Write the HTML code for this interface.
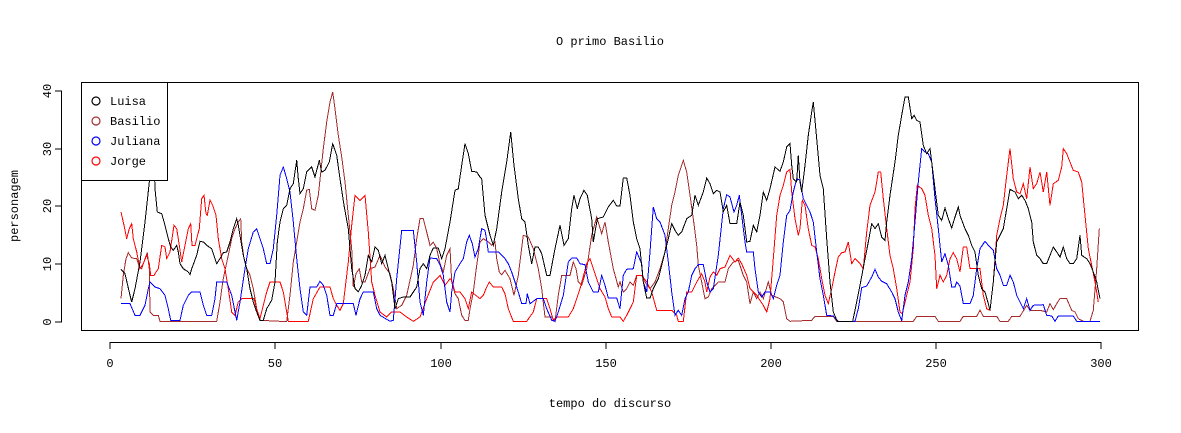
<!DOCTYPE html>
<html><head><meta charset="utf-8"><style>
body{margin:0;background:#fff}
svg{display:block}
text{font-family:"Liberation Mono","DejaVu Sans Mono",monospace;font-size:12px;fill:#000}
</style></head><body>
<svg id="s" width="1181" height="433" viewBox="0 0 1181 433" xmlns="http://www.w3.org/2000/svg">
<rect x="0" y="0" width="1181" height="433" fill="#fff"/>
<text x="610" y="45" text-anchor="middle">O primo Basilio</text>
<text x="610" y="407" text-anchor="middle">tempo do discurso</text>
<text transform="translate(18,206) rotate(-90)" text-anchor="middle">personagem</text>
<g stroke="#000" stroke-width="1" fill="none">
<line x1="110" y1="342.5" x2="1101" y2="342.5"/>
<line x1="110" y1="342" x2="110" y2="349"/><line x1="275" y1="342" x2="275" y2="349"/>
<line x1="441" y1="342" x2="441" y2="349"/><line x1="606" y1="342" x2="606" y2="349"/>
<line x1="771" y1="342" x2="771" y2="349"/><line x1="936" y1="342" x2="936" y2="349"/>
<line x1="1101" y1="342" x2="1101" y2="349"/>
<line x1="61.5" y1="91" x2="61.5" y2="322"/>
<line x1="55" y1="322" x2="62" y2="322"/><line x1="55" y1="264" x2="62" y2="264"/>
<line x1="55" y1="206" x2="62" y2="206"/><line x1="55" y1="149" x2="62" y2="149"/>
<line x1="55" y1="91" x2="62" y2="91"/>
<rect x="81.5" y="82.5" width="1057" height="248"/>
</g>
<g text-anchor="middle">
<text x="110" y="367">0</text><text x="275" y="367">50</text><text x="441" y="367">100</text>
<text x="606" y="367">150</text><text x="771" y="367">200</text><text x="936" y="367">250</text>
<text x="1101" y="367">300</text>
<text transform="translate(51,322) rotate(-90)">0</text>
<text transform="translate(51,264) rotate(-90)">10</text>
<text transform="translate(51,206) rotate(-90)">20</text>
<text transform="translate(51,149) rotate(-90)">30</text>
<text transform="translate(51,91) rotate(-90)">40</text>
</g>
<g id="lines" fill="none" stroke-width="1" shape-rendering="crispEdges"></g>
<rect x="81.5" y="82.5" width="86" height="98" fill="#fff" stroke="#000"/>
<g fill="none" stroke-width="1.2">
<circle cx="96" cy="101" r="4" stroke="#000"/>
<circle cx="96" cy="121" r="4" stroke="#A52A2A"/>
<circle cx="96" cy="141" r="4" stroke="#00f"/>
<circle cx="96" cy="161" r="4" stroke="#f00"/>
</g>
<text x="110" y="105">Luisa</text>
<text x="110" y="125">Basilio</text>
<text x="110" y="145">Juliana</text>
<text x="110" y="165">Jorge</text>
</svg>
<script>
var Z={
black:[
[100,[63,562,75,575,90,640,95,660,105,620,120,540,135,420,148,300,156,250,163,260,165,320,172,390,185,395,195,430,205,470,212,495,220,505,230,490,235,510,240,545,250,560,265,570,270,578,275,560,290,520,300,478,310,480,320,490,335,500,350,545,360,530,370,512,380,510,390,480,400,440,410,410,415,430,420,460,430,520,440,560,450,620,460,660,470,690,480,715,490,715,500,680,515,655,525,600,532,480,540,420]],
[270,[0,660,10,640,20,560,30,440,40,380,50,370,60,320,70,305,80,235,85,290,90,335,100,320,110,270,125,255,135,285,148,235,155,270,165,265,178,240,188,185,200,220,210,290,222,370,235,440,240,500,245,560,255,620,265,630,275,610,285,580,295,520,305,540,315,495,325,505,335,545,345,520,355,560,365,600,375,680,385,650,400,645,420,645,440,615,450,560,460,545,470,560,480,520,490,498,505,498,515,530,525,500,540,420]],
[440,[0,510,10,520,20,490,30,400,45,325,55,320,65,250,75,185,85,215,95,268,110,270,120,285,125,290,135,400,150,460,160,490,170,440,185,330,200,240,212,150,222,250,235,350,245,410,255,420,265,490,275,545,285,495,295,495,305,515,320,580,330,580,345,500,360,430,372,490,385,470,395,380,402,340,412,380,420,350,432,325,442,340,455,410,460,480,472,410,490,405,505,375,520,355,530,372,540,372]],
[610,[0,390,10,355,20,372,30,372,40,288,50,288,60,340,70,420,80,470,90,500,100,600,110,648,120,648,130,620,145,590,160,530,175,470,185,425,195,445,205,460,215,450,230,410,245,400,255,340,265,370,280,330,290,288,300,305,310,335,320,325,330,330,340,390,350,370,360,425,380,425,390,360,400,400,410,480,420,478,430,430,440,450,450,400,460,330,470,355,480,320,495,255,510,268,520,240,530,195,540,185]],
[780,[0,265,10,235,20,200,28,185,35,250,40,290,50,300,55,220,60,300,65,330,75,250,85,160,95,90,100,60,110,170,120,280,130,320,140,470,150,600,160,690,172,718,218,718,230,660,240,610,255,530,265,480,275,425,285,440,295,425,305,465,315,475,320,420,330,340,345,240,355,160,365,100,375,45,385,45,395,110,402,100,410,115,420,120,430,190,440,215,450,200,455,240,465,320,475,400,485,415,495,378,505,410,515,438,525,405,535,375,540,400]],
[950,[0,430,10,430,20,375,30,400,45,440,55,460,65,490,75,510,85,580,95,620,105,630,115,665,120,685,130,600,140,480,150,460,160,440,170,380,180,322,195,330,205,350,215,340,225,355,235,380,245,420,250,480,260,520,270,530,280,545,290,545,300,520,310,495,320,510,330,525,340,495,350,530,360,545,370,545,380,530,390,460,395,520,410,530,420,545,430,570,440,600,450,650]]],
brown:[
[100,[63,650,70,580,78,530,85,512,95,528,110,530,118,555,125,560,135,530,142,512,148,560,145,650,150,690,160,700,175,700,180,718,350,718,360,660,368,600,375,565,385,520,395,470,405,440,415,420,422,410,425,480,432,530,440,560,450,580,460,620,470,680,480,715,540,718]],
[270,[0,718,50,718,60,640,70,540,80,480,90,420,100,380,110,325,118,322,125,380,135,385,145,340,160,200,170,120,180,60,188,30,195,80,205,160,215,225,225,300,235,400,245,500,250,615,258,575,268,560,275,600,285,600,300,560,315,555,330,520,345,555,360,575,370,620,380,680,395,670,410,640,430,550,440,470,450,410,460,410,470,450,480,490,490,480,500,500,510,545,520,570,530,520,540,500]],
[440,[0,520,10,512,25,530,35,600,45,635,55,650,65,700,75,715,85,715,90,680,100,630,110,550,120,480,130,470,145,480,155,490,165,480,170,530,178,570,185,578,195,565,210,590,222,640,235,580,250,460,265,465,280,500,295,560,305,620,315,705,335,705,345,718,355,640,365,580,390,580,400,540,408,560,415,600,425,610,440,560,455,460,470,405,485,455,495,420,505,480,520,560,535,615,540,600]],
[610,[0,520,10,570,20,610,30,600,40,630,50,620,60,600,70,610,80,580,95,580,105,600,120,620,135,600,150,560,165,510,175,440,185,370,195,330,205,280,220,235,230,270,240,340,250,410,260,490,265,550,275,600,285,650,295,645,305,620,325,600,345,600,355,560,370,540,385,535,400,580,410,600,420,665,430,630,440,650,450,630,460,650,475,600,485,640,510,650,520,660,530,710,540,718]],
[780,[0,650,10,660,15,695,25,715,95,715,105,703,160,703,170,718,400,718,410,703,465,703,475,718,540,718]],
[950,[0,718,30,718,40,703,80,703,90,685,100,703,140,703,150,718,175,718,185,703,210,703,230,670,240,685,270,685,290,690,300,665,310,683,320,665,330,650,350,650,365,685,375,690,385,710,400,718,420,718,430,685,440,560,448,440]]],
blue:[
[100,[63,665,90,665,105,700,120,700,135,670,145,620,150,600,165,615,180,620,195,640,205,680,212,715,240,715,250,670,265,640,275,630,300,630,310,670,320,700,335,700,345,650,350,600,380,600,395,640,405,690,410,715,420,660,435,560,445,500,460,450,470,440,480,470,490,500,500,545,510,545,520,500,530,400,540,280]],
[270,[0,540,10,450,20,340,30,275,40,255,50,290,60,330,70,420,80,530,90,620,100,690,110,700,120,615,140,615,150,598,160,610,170,640,180,700,190,700,200,665,250,665,258,700,270,650,280,630,310,630,320,680,330,700,360,718,370,715,380,590,395,445,430,445,440,540,450,660,460,700,470,600,480,528,500,530,510,548,520,580,530,660,540,690]],
[440,[0,540,10,620,20,690,28,700,35,630,45,570,60,545,70,530,80,480,88,460,97,485,105,525,115,500,125,440,135,445,140,475,145,510,175,510,195,530,205,545,215,570,235,630,245,665,258,665,262,635,270,665,290,650,310,650,320,680,335,715,345,718,355,690,370,640,385,540,395,528,410,528,420,545,435,548,445,600,460,630,475,630,485,580,495,610,505,648,530,648,540,680]],
[610,[0,648,20,648,30,685,40,580,50,562,70,560,80,510,95,545,100,600,110,630,120,510,130,375,140,410,150,420,165,460,175,540,185,630,195,700,205,685,215,700,225,650,235,630,245,580,255,560,265,548,280,548,290,600,300,630,310,620,325,520,340,380,350,338,360,345,372,390,380,370,388,340,395,400,405,480,410,510,430,510,435,560,445,630,455,645,465,630,480,630,490,650,500,610,510,580,520,480,530,400,540,385]],
[780,[0,590,10,440,20,380,30,355,40,330,50,290,60,295,70,350,80,370,90,390,100,420,110,510,120,590,130,640,140,700,160,702,175,718,225,718,235,680,245,617,260,612,275,585,285,562,295,585,305,598,320,605,335,630,345,650,355,690,365,716,375,640,385,600,395,530,405,420,415,300,425,200,435,210,445,215,455,240,465,350,475,440,485,540,495,515,505,550,515,615,525,615,530,600,540,612]],
[950,[0,595,10,615,20,600,30,615,40,665,60,665,70,640,80,560,90,500,105,478,115,490,130,505,140,560,150,580,160,610,170,610,180,580,190,600,200,640,210,660,220,680,230,650,240,685,250,670,280,668,290,700,305,702,315,718,325,702,370,702,380,718,450,718]]],
red:[
[100,[63,390,72,430,80,470,88,440,95,425,100,470,110,510,120,560,130,545,140,520,148,545,152,580,162,580,175,560,185,490,195,495,200,530,210,510,222,430,230,440,238,490,245,540,255,490,265,440,272,425,276,490,285,490,298,440,305,350,312,340,318,395,322,400,330,355,338,370,348,400,355,470,365,530,375,560,385,620,395,690,405,700,415,660,425,650,462,650,470,680,480,710,490,670,500,630,510,600,540,600]],
[270,[0,598,30,598,40,630,55,718,115,718,130,650,150,615,180,615,190,650,200,670,210,685,220,665,235,540,245,430,255,340,270,355,285,340,295,450,305,600,315,640,330,690,350,705,365,690,390,690,410,705,430,718,450,705,470,650,490,600,510,580,525,610,540,590]],
[440,[0,610,10,600,20,570,28,562,35,595,45,630,60,630,75,650,85,680,95,630,105,638,120,650,130,640,140,615,148,600,160,615,185,615,195,635,205,680,220,718,260,718,280,690,290,650,320,650,330,680,340,715,350,705,385,705,400,680,420,620,440,545,450,530,460,560,480,620,495,645,505,680,515,705,540,705]],
[610,[0,700,30,705,40,718,50,700,60,680,70,660,80,580,95,580,110,600,125,630,140,685,185,685,200,700,205,718,220,718,230,630,245,630,260,600,275,575,285,600,290,630,300,585,310,570,320,580,330,560,345,555,360,520,375,540,385,528,395,545,410,580,420,620,440,640,460,670,470,690,480,650,490,530,500,400,510,340,520,310,530,270,540,262]],
[780,[0,350,10,330,20,300,28,270,35,330,45,410,55,460,60,440,67,355,75,370,85,440,95,490,105,495,115,530,125,590,135,640,145,665,155,620,165,570,175,525,185,512,195,510,205,480,215,545,225,530,240,545,250,560,260,450,270,370,285,330,295,270,302,270,310,350,320,440,330,520,340,560,350,620,360,690,367,695,380,640,390,600,400,500,405,380,412,310,425,320,435,340,445,400,455,440,465,520,470,620,480,580,490,600,500,580,510,530,520,512,530,530,540,570]],
[950,[0,550,10,520,20,525,30,580,40,495,50,495,60,560,90,560,100,640,110,680,120,685,130,600,140,460,150,410,160,370,170,280,180,200,190,290,200,330,210,335,220,305,230,350,240,255,250,320,260,305,270,270,280,330,290,270,300,370,310,305,325,295,335,255,340,200,350,215,360,240,370,265,385,270,395,300,405,400,415,500,425,550,435,600,445,660]]]};
var col={brown:"#A52A2A",red:"#ff0000",blue:"#0000ff",black:"#000000"};
var g=document.getElementById("lines"),ns="http://www.w3.org/2000/svg";
["brown","red","blue","black"].forEach(function(k){
  var pts=[],last=-1;
  Z[k].forEach(function(seg){var ox=seg[0],a=seg[1];
    for(var i=0;i<a.length;i+=2){var x=ox+a[i]/3,y=82+a[i+1]/3;
      if(x<=last)continue;last=x;pts.push(x.toFixed(1)+","+y.toFixed(1));}});
  var p=document.createElementNS(ns,"polyline");
  p.setAttribute("points",pts.join(" "));p.setAttribute("stroke",col[k]);
  g.appendChild(p);
});
</script>
</body></html>
